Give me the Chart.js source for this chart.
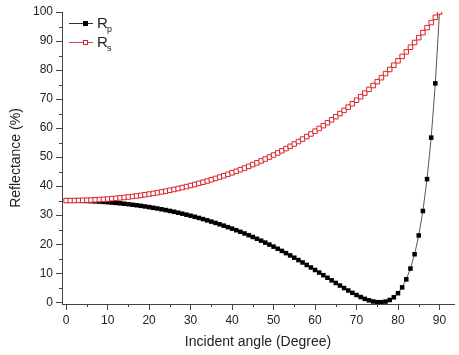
<!DOCTYPE html>
<html>
<head>
<meta charset="utf-8">
<script src="https://cdn.jsdelivr.net/npm/chart.js@4.4.1/dist/chart.umd.min.js"></script>
<style>
  body { margin: 0; background: #fff; }
  #wrap { width: 459px; height: 355px; }
</style>
</head>
<body>
<div id="wrap"><canvas id="reflectChart" width="459" height="355"></canvas></div>
<script>
// incident angle in degrees, one point per degree
const angles = [
  0, 1, 2, 3, 4, 5, 6, 7, 8, 9,
  10, 11, 12, 13, 14, 15, 16, 17, 18, 19,
  20, 21, 22, 23, 24, 25, 26, 27, 28, 29,
  30, 31, 32, 33, 34, 35, 36, 37, 38, 39,
  40, 41, 42, 43, 44, 45, 46, 47, 48, 49,
  50, 51, 52, 53, 54, 55, 56, 57, 58, 59,
  60, 61, 62, 63, 64, 65, 66, 67, 68, 69,
  70, 71, 72, 73, 74, 75, 76, 77, 78, 79,
  80, 81, 82, 83, 84, 85, 86, 87, 88, 89, 90
];

const rpValues = [
  35.03, 35.02, 35.01, 34.98, 34.94, 34.89, 34.83, 34.76, 34.68, 34.58,
  34.48, 34.36, 34.23, 34.09, 33.94, 33.78, 33.60, 33.42, 33.22, 33.01,
  32.78, 32.54, 32.30, 32.03, 31.76, 31.47, 31.17, 30.85, 30.52, 30.17,
  29.82, 29.44, 29.05, 28.65, 28.23, 27.79, 27.34, 26.87, 26.38, 25.88,
  25.36, 24.82, 24.27, 23.70, 23.10, 22.49, 21.86, 21.22, 20.55, 19.86,
  19.16, 18.43, 17.69, 16.93, 16.14, 15.35, 14.53, 13.70, 12.85, 11.98,
  11.12, 10.23, 9.33, 8.44, 7.54, 6.65, 5.76, 4.89, 4.05, 3.25,
  2.49, 1.79, 1.17, 0.66, 0.27, 0.04, 0.02, 0.24, 0.78, 1.71,
  3.12, 5.13, 7.90, 11.62, 16.55, 23.01, 31.44, 42.42, 56.72, 75.42, 100
];

const rsValues = [
  35.03, 35.03, 35.05, 35.08, 35.11, 35.16, 35.22, 35.30, 35.38, 35.47,
  35.58, 35.69, 35.82, 35.96, 36.11, 36.27, 36.45, 36.63, 36.83, 37.04,
  37.27, 37.50, 37.75, 38.01, 38.28, 38.57, 38.87, 39.19, 39.51, 39.85,
  40.21, 40.58, 40.96, 41.36, 41.78, 42.21, 42.66, 43.12, 43.60, 44.09,
  44.60, 45.13, 45.68, 46.24, 46.83, 47.43, 48.05, 48.69, 49.34, 50.02,
  50.72, 51.44, 52.18, 52.95, 53.73, 54.54, 55.37, 56.22, 57.09, 57.99,
  58.95, 59.87, 60.84, 61.84, 62.87, 63.92, 65.00, 66.11, 67.24, 68.41,
  69.60, 70.82, 72.07, 73.35, 74.66, 76.00, 77.37, 78.78, 80.21, 81.68,
  83.18, 84.71, 86.27, 87.87, 89.50, 91.17, 92.87, 94.60, 96.36, 98.17, 100
];

const xTicks = [0, 10, 20, 30, 40, 50, 60, 70, 80, 90];
const xMinorTicks = [5, 15, 25, 35, 45, 55, 65, 75, 85];
const yTicks = [0, 10, 20, 30, 40, 50, 60, 70, 80, 90, 100];
const yMinorTicks = [5, 15, 25, 35, 45, 55, 65, 75, 85, 95];

const axisColor = '#444';
const textColor = '#222';
const redColor = '#d8232a';

function toPoints(values) {
  return angles.map((a, i) => ({ x: a, y: values[i] }));
}

// minor tick marks, Origin style (shorter, outward)
const minorTicks = {
  id: 'minorTicks',
  afterDraw(chart) {
    const ctx = chart.ctx;
    const xs = chart.scales.x;
    const ys = chart.scales.y;
    ctx.save();
    ctx.strokeStyle = axisColor;
    ctx.lineWidth = 1;
    ctx.beginPath();
    xMinorTicks.forEach(v => {
      const px = Math.round(xs.getPixelForValue(v)) + 0.5;
      ctx.moveTo(px, ys.bottom);
      ctx.lineTo(px, ys.bottom + 3);
    });
    yMinorTicks.forEach(v => {
      const py = Math.round(ys.getPixelForValue(v)) + 0.5;
      ctx.moveTo(xs.left, py);
      ctx.lineTo(xs.left - 3, py);
    });
    ctx.stroke();
    ctx.restore();
  }
};

// legend drawn inside the plot, with subscripts
const subLegend = {
  id: 'subLegend',
  afterDraw(chart) {
    const ctx = chart.ctx;
    const items = [
      { y: 23, line: '#333', fill: '#000', stroke: '#000', sub: 'p' },
      { y: 42, line: '#c8485a', fill: '#fff', stroke: redColor, sub: 's' }
    ];
    ctx.save();
    items.forEach(item => {
      ctx.strokeStyle = item.line;
      ctx.lineWidth = 1;
      ctx.beginPath();
      ctx.moveTo(69, item.y + 0.5);
      ctx.lineTo(93, item.y + 0.5);
      ctx.stroke();
      ctx.fillStyle = item.fill;
      ctx.fillRect(83, item.y - 2, 5, 5);
      ctx.strokeStyle = item.stroke;
      ctx.strokeRect(83.5, item.y - 1.5, 4, 4);
      ctx.fillStyle = textColor;
      ctx.font = '15px "Liberation Sans", Arial, sans-serif';
      ctx.textBaseline = 'alphabetic';
      ctx.fillText('R', 97, item.y + 5);
      ctx.font = '9px "Liberation Sans", Arial, sans-serif';
      ctx.fillText(item.sub, 107, item.y + 9);
    });
    ctx.restore();
  }
};

const chart = new Chart(document.querySelector('#reflectChart'), {
  type: 'scatter',
  data: {
    datasets: [{
      label: 'Rp',
      data: toPoints(rpValues),
      showLine: true,
      borderColor: '#555',
      borderWidth: 1,
      pointStyle: 'rect',
      pointRadius: 3.2,
      pointBackgroundColor: '#000',
      pointBorderColor: '#000',
      pointBorderWidth: 0,
      order: 2
    }, {
      label: 'Rs',
      data: toPoints(rsValues),
      showLine: true,
      borderColor: redColor,
      borderWidth: 1,
      pointStyle: 'rect',
      pointRadius: 3.2,
      pointBackgroundColor: '#fff',
      pointBorderColor: redColor,
      pointBorderWidth: 1,
      order: 1
    }]
  },
  options: {
    responsive: false,
    animation: false,
    devicePixelRatio: 1,
    layout: { padding: { top: 12, right: 2, left: 0, bottom: 0 } },
    plugins: {
      legend: { display: false },
      tooltip: { enabled: false }
    },
    scales: {
      x: {
        type: 'linear',
        min: -1,
        max: 93.5,
        afterBuildTicks: scale => { scale.ticks = xTicks.map(v => ({ value: v })); },
        afterFit: scale => { scale.height = 51; },
        grid: {
          drawOnChartArea: false,
          tickLength: 6,
          tickColor: axisColor
        },
        border: { color: axisColor, width: 1 },
        ticks: {
          color: textColor,
          padding: 3,
          maxRotation: 0,
          font: { family: '"Liberation Sans", Arial, sans-serif', size: 12 }
        },
        title: {
          display: true,
          text: 'Incident angle (Degree)',
          color: textColor,
          padding: { top: 0, bottom: 4 },
          font: { family: '"Liberation Sans", Arial, sans-serif', size: 14 }
        }
      },
      y: {
        type: 'linear',
        min: -0.6,
        max: 100,
        afterBuildTicks: scale => { scale.ticks = yTicks.map(v => ({ value: v })); },
        afterFit: scale => { scale.width = 62; },
        grid: {
          drawOnChartArea: false,
          tickLength: 6,
          tickColor: axisColor
        },
        border: { color: axisColor, width: 1 },
        ticks: {
          color: textColor,
          padding: 3,
          font: { family: '"Liberation Sans", Arial, sans-serif', size: 12 }
        },
        title: {
          display: true,
          text: 'Reflectance (%)',
          color: textColor,
          padding: { top: 8, bottom: 0 },
          font: { family: '"Liberation Sans", Arial, sans-serif', size: 14 }
        }
      }
    }
  },
  plugins: [minorTicks, subLegend]
});
</script>
</body>
</html>
